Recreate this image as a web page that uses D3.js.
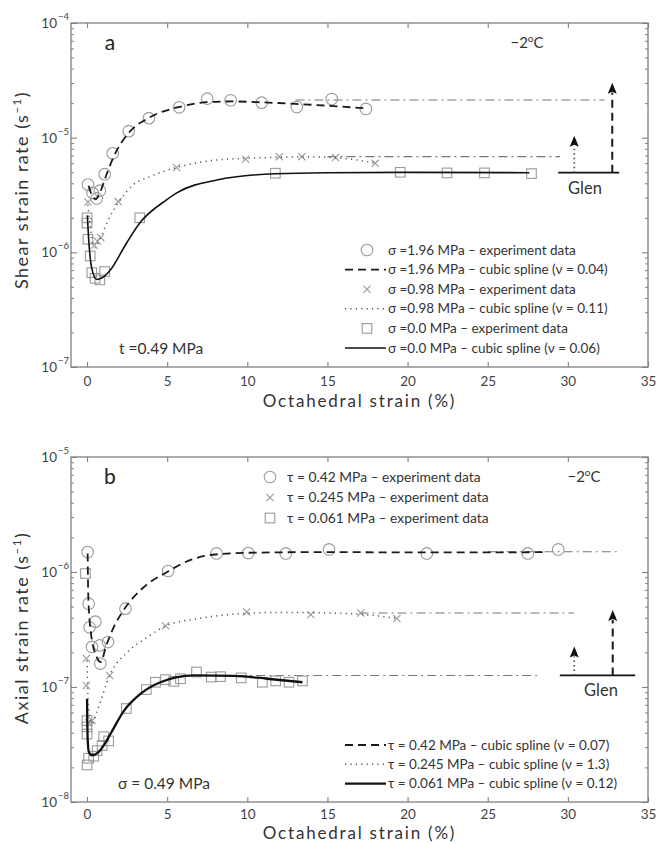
<!DOCTYPE html>
<html><head><meta charset="utf-8">
<script src="https://cdn.jsdelivr.net/npm/d3@7"></script>
<style>
html,body{margin:0;padding:0;background:#fff;}
svg{display:block;font-family:Lato,"Open Sans",sans-serif;}
</style></head>
<body><svg id="c" width="657" height="843"></svg>
<script>
// ---------- data ----------
const xTickValues = [0, 5, 10, 15, 20, 25, 30, 35];

// Panel a (shear strain rate, s^-1)
const a196Exp = [[0.06,3.9e-6],[0.35,3.3e-6],[0.6,2.95e-6],[0.8,3.45e-6],[1.1,4.8e-6],[1.6,7.3e-6],[2.6,1.14e-5],[3.86,1.48e-5],[5.75,1.84e-5],[7.5,2.19e-5],[8.96,2.12e-5],[10.9,2.02e-5],[13.09,1.85e-5],[15.27,2.17e-5],[17.4,1.78e-5]];
const a196Fit = [[0.1,3.8e-6],[0.3,3.15e-6],[0.55,2.9e-6],[0.8,3.3e-6],[1.2,4.7e-6],[1.7,7.0e-6],[2.6,1.1e-5],[3.9,1.5e-5],[5.8,1.86e-5],[7.5,2.04e-5],[9,2.07e-5],[11,2.03e-5],[13,1.97e-5],[15,1.9e-5],[17.4,1.8e-5]];
const a098Exp = [[0.06,2.75e-6],[0.45,1.15e-6],[0.65,1.25e-6],[0.85,1.35e-6],[1.95,2.77e-6],[5.59,5.5e-6],[9.9,6.5e-6],[12.0,6.83e-6],[13.4,6.83e-6],[15.5,6.7e-6],[17.98,5.97e-6]];
const a098Fit = [[0.05,2.6e-6],[0.25,1.5e-6],[0.48,1.1e-6],[0.9,1.4e-6],[1.31,1.9e-6],[2.0,2.77e-6],[2.87,3.87e-6],[3.92,4.57e-6],[5.6,5.5e-6],[8.1,6.4e-6],[10,6.6e-6],[12,6.75e-6],[14,6.8e-6],[16,6.6e-6],[18,6.0e-6]];
const a0Exp = [[0,2.0e-6],[0,1.8e-6],[0.06,1.3e-6],[0.2,9.3e-7],[0.3,6.65e-7],[0.5,5.94e-7],[0.8,5.75e-7],[1.1,6.8e-7],[3.29,2.0e-6],[11.75,4.9e-6],[19.54,4.99e-6],[22.46,4.93e-6],[24.8,4.93e-6],[27.73,4.86e-6]];
const a0Fit = [[0.02,2.1e-6],[0.12,1.2e-6],[0.3,7.2e-7],[0.6,5.8e-7],[0.95,6.0e-7],[1.42,6.9e-7],[2.46,1.2e-6],[3.29,1.8e-6],[4.96,2.87e-6],[5.6,3.3e-6],[8.1,4.28e-6],[11.75,4.85e-6],[15,4.95e-6],[20,4.98e-6],[27.6,4.95e-6]];
const aRefLevels = [[13,32.3,2.13e-5],[15,29.5,6.83e-6]];          // [xStart, xEnd, level]
const aGlenBase = [29.4, 33.2, 4.95e-6];                          // [xStart, xEnd, level]
const aGlenArrows = [[32.77,2.9e-5,"dash"],[30.4,1.0e-5,"dot"]];  // [x, tip, style]

// Panel b (axial strain rate, s^-1)
const b042Exp = [[0.04,1.49e-6],[0.1,5.3e-7],[0.16,3.3e-7],[0.52,3.7e-7],[0.31,2.23e-7],[0.79,2.3e-7],[1.31,2.46e-7],[0.83,1.6e-7],[2.4,4.8e-7],[5.06,1.02e-6],[8.08,1.45e-6],[10.06,1.46e-6],[12.4,1.45e-6],[15.1,1.57e-6],[21.2,1.45e-6],[27.5,1.45e-6],[29.4,1.57e-6]];
const b042Fit = [[0.04,1.45e-6],[0.08,6e-7],[0.25,2.9e-7],[0.55,1.9e-7],[0.85,1.65e-7],[1.2,2.3e-7],[1.66,3.3e-7],[2.3,4.7e-7],[3.5,7.3e-7],[5,1.0e-6],[6.5,1.28e-6],[8,1.42e-6],[10,1.47e-6],[15,1.49e-6],[20,1.48e-6],[25,1.48e-6],[28.6,1.49e-6]];
const b0245Exp = [[-0.04,1.77e-7],[-0.04,1.03e-7],[0.1,4.9e-8],[0.31,5.1e-8],[1.41,1.26e-7],[4.9,3.4e-7],[9.96,4.49e-7],[13.96,4.26e-7],[17.08,4.4e-7],[19.33,3.94e-7]];
const b0245Fit = [[0.0,1.7e-7],[0.08,7e-8],[0.3,4.8e-8],[0.6,6e-8],[0.83,7.4e-8],[1.41,1.26e-7],[2.5,2.0e-7],[3.75,2.7e-7],[4.9,3.4e-7],[7,3.95e-7],[9.2,4.3e-7],[12,4.45e-7],[15,4.4e-7],[17,4.3e-7],[19.3,3.95e-7]];
const b061Exp = [[-0.1,9.7e-7],[0,5.1e-8],[0,4.5e-8],[0,3.9e-8],[0,2.1e-8],[0.1,2.4e-8],[0.42,2.5e-8],[0.63,2.8e-8],[0.94,3.1e-8],[1.04,3.7e-8],[1.35,3.4e-8],[2.45,6.5e-8],[3.7,9.5e-8],[4.27,1.1e-7],[4.89,1.16e-7],[5.41,1.12e-7],[5.83,1.18e-7],[6.83,1.35e-7],[7.75,1.22e-7],[8.33,1.23e-7],[9.62,1.2e-7],[10.94,1.1e-7],[11.77,1.13e-7],[12.6,1.1e-7],[13.44,1.13e-7]];
const b061Fit = [[0,7.9e-8],[0.04,3.5e-8],[0.12,2.7e-8],[0.3,2.55e-8],[0.7,2.7e-8],[1.1,3.2e-8],[1.46,3.9e-8],[2.3,6.2e-8],[3.33,8.7e-8],[4.58,1.1e-7],[6.67,1.26e-7],[9.16,1.25e-7],[11.25,1.18e-7],[13.44,1.1e-7]];
const bRefLevels = [[25,33.2,1.5e-6],[17,30.4,4.4e-7],[7,28.3,1.26e-7]];
const bGlenBase = [29.5, 34.2, 1.26e-7];
const bGlenArrows = [[32.8,4.5e-7,"dash"],[30.4,2.16e-7,"dot"]];

const aLegend = [
  {sym:"circle", text:"σ =1.96 MPa – experiment data"},
  {line:"dash",  text:"σ =1.96 MPa – cubic spline (ν = 0.04)"},
  {sym:"cross",  text:"σ =0.98 MPa – experiment data"},
  {line:"dot",   text:"σ =0.98 MPa – cubic spline (ν = 0.11)"},
  {sym:"square", text:"σ =0.0 MPa – experiment data"},
  {line:"solid", text:"σ =0.0 MPa – cubic spline (ν = 0.06)"}
];
const bLegendTop = [
  {sym:"circle", text:"τ = 0.42 MPa – experiment data"},
  {sym:"cross",  text:"τ = 0.245 MPa – experiment data"},
  {sym:"square", text:"τ = 0.061 MPa – experiment data"}
];
const bLegendBottom = [
  {line:"dash",  text:"τ = 0.42 MPa – cubic spline (ν = 0.07)"},
  {line:"dot",   text:"τ = 0.245 MPa – cubic spline (ν = 1.3)"},
  {line:"solidB", text:"τ = 0.061 MPa – cubic spline (ν = 0.12)"}
];

// ---------- drawing ----------
const svg = d3.select("#c");
const AXC = "#808080", TXT = "#333", MK = "#9a9a9a";
const lineStyles = {
  dash:  {w:1.8, da:"8,5", c:"#1a1a1a"},
  dot:   {w:1.5, da:"1.2,4.2", c:"#555"},
  solid: {w:1.6, da:null, c:"#111"},
  solidB:{w:2.3, da:null, c:"#111"}
};

function marker(g, type, cx, cy){
  if(type==="circle"){
    g.append("circle").attr("cx",cx).attr("cy",cy).attr("r",5.8)
      .attr("fill","none").attr("stroke",MK).attr("stroke-width",1.1);
  } else if(type==="cross"){
    const s=3.6;
    g.append("path").attr("d",`M${cx-s},${cy-s}L${cx+s},${cy+s}M${cx-s},${cy+s}L${cx+s},${cy-s}`)
      .attr("stroke",MK).attr("stroke-width",1.1).attr("fill","none");
  } else {
    const s=4.8;
    g.append("rect").attr("x",cx-s).attr("y",cy-s).attr("width",2*s).attr("height",2*s)
      .attr("fill","none").attr("stroke",MK).attr("stroke-width",1.1);
  }
}

function styled(sel, st){
  sel.attr("fill","none").attr("stroke",lineStyles[st].c).attr("stroke-width",lineStyles[st].w);
  if(lineStyles[st].da) sel.attr("stroke-dasharray",lineStyles[st].da);
  return sel;
}

function arrowHead(g, x, y){
  g.append("path").attr("d",`M${x},${y-2}L${x+4.5},${y+9}L${x},${y+7}L${x-4.5},${y+9}Z`).attr("fill","#111");
}

function panel(cfg){
  const x = d3.scaleLinear().domain([-1,35]).range([cfg.left, cfg.right]);
  const y = d3.scaleLog().domain(cfg.ydom).range([cfg.bottom, cfg.top]);
  const g = svg.append("g");

  const line = d3.line().x(d=>x(d[0])).y(d=>y(d[1])).curve(d3.curveMonotoneX);

  // reference dash-dot levels
  cfg.refs.forEach(r=>{
    g.append("line").attr("x1",x(r[0])).attr("x2",x(r[1])).attr("y1",y(r[2])).attr("y2",y(r[2]))
      .attr("stroke","#777").attr("stroke-width",1.1).attr("stroke-dasharray","9,4,2,4");
  });

  cfg.series.forEach(s=>{
    s.exp.forEach(p=>marker(g, s.sym, x(p[0]), y(p[1])));
  });
  cfg.series.forEach(s=>{
    styled(g.append("path").datum(s.fit).attr("d",line), s.line);
  });

  // Glen
  g.append("line").attr("x1",x(cfg.glen[0])).attr("x2",x(cfg.glen[1]))
    .attr("y1",y(cfg.glen[2])).attr("y2",y(cfg.glen[2])).attr("stroke","#111").attr("stroke-width",1.8);
  cfg.arrows.forEach(a=>{
    const ax=x(a[0]);
    const l=g.append("line").attr("x1",ax).attr("x2",ax).attr("y1",y(cfg.glen[2])).attr("y2",y(a[1])+8);
    if(a[2]==="dash") styled(l,"dash").attr("stroke-width",2); else styled(l,"dot").attr("stroke-width",1.8).attr("stroke-dasharray","1.5,3");
    arrowHead(g, ax, y(a[1]));
  });
  g.append("text").attr("x",cfg.glenTextX).attr("y",y(cfg.glen[2])+21)
    .attr("text-anchor","middle").attr("font-size",16.5).attr("fill",TXT).text("Glen");

  // frame
  g.append("rect").attr("x",cfg.left).attr("y",cfg.top).attr("width",cfg.right-cfg.left)
    .attr("height",cfg.bottom-cfg.top).attr("fill","none").attr("stroke",AXC).attr("stroke-width",1.3);

  // x ticks
  const xb = d3.axisBottom(x).tickValues(xTickValues).tickSize(-5).tickPadding(cfg.tickPad).tickFormat(d3.format("d"));
  const xa = g.append("g").attr("transform",`translate(0,${cfg.bottom})`).call(xb);
  xa.select(".domain").remove();
  xa.selectAll("line").attr("stroke",AXC).attr("stroke-width",1.1);
  xa.selectAll("text").attr("font-size",13.5).attr("fill","#444").attr("font-family","Lato,sans-serif");
  const xt = g.append("g").attr("transform",`translate(0,${cfg.top})`).call(d3.axisTop(x).tickValues(xTickValues).tickSize(-5).tickFormat(""));
  xt.select(".domain").remove();
  xt.selectAll("line").attr("stroke",AXC).attr("stroke-width",1.1);

  // y ticks (major + minor), left and right
  const lo = Math.round(Math.log10(cfg.ydom[0])), hi = Math.round(Math.log10(cfg.ydom[1]));
  const majors = d3.range(lo, hi+1).map(e=>Math.pow(10,e));
  const minors = [];
  d3.range(lo, hi).forEach(e=>{ for(let k=2;k<=9;k++) minors.push(k*Math.pow(10,e)); });
  [[d3.axisLeft, cfg.left],[d3.axisRight, cfg.right]].forEach(([ax,pos])=>{
    const gm = g.append("g").attr("transform",`translate(${pos},0)`).call(ax(y).tickValues(majors).tickSize(-6).tickFormat(""));
    gm.select(".domain").remove();
    gm.selectAll("line").attr("stroke",AXC).attr("stroke-width",1.1);
    const gn = g.append("g").attr("transform",`translate(${pos},0)`).call(ax(y).tickValues(minors).tickSize(-3).tickFormat(""));
    gn.select(".domain").remove();
    gn.selectAll("line").attr("stroke",AXC).attr("stroke-width",1);
  });
  majors.forEach(v=>{
    const e = Math.round(Math.log10(v));
    g.append("text").attr("x",cfg.left-14).attr("y",y(v)+5).attr("text-anchor","end")
      .attr("font-size",13.5).attr("fill","#444").text("10");
    g.append("text").attr("x",cfg.left-13).attr("y",y(v)-3).attr("font-size",9.5).attr("fill","#444")
      .text("−"+Math.abs(e));
  });

  // axis labels
  g.append("text").attr("x",(cfg.left+cfg.right)/2).attr("y",cfg.bottom+cfg.xlabelDy).attr("text-anchor","middle")
    .attr("font-size",17).attr("letter-spacing",1.8).attr("fill",TXT).text("Octahedral strain (%)");
  const yl = g.append("text").attr("transform",`translate(28,${cfg.ylabelY}) rotate(-90)`)
    .attr("text-anchor","middle").attr("font-size",18).attr("letter-spacing",1.5).attr("fill",TXT);
  yl.append("tspan").text(cfg.ylabel+" (s");
  yl.append("tspan").attr("font-size",11.5).attr("dy",-7).text("−1");
  yl.append("tspan").attr("dy",7).text(")");

  // annotations
  g.append("text").attr("x",110).attr("y",cfg.top+27).attr("text-anchor","middle").attr("font-size",21).attr("fill","#222").text(cfg.letter);
  const tc = g.append("text").attr("x",cfg.tempX).attr("y",cfg.top+25).attr("text-anchor","middle").attr("font-size",15).attr("fill",TXT);
  tc.append("tspan").text("−2");
  tc.append("tspan").attr("font-size",10).attr("dy",-6).text("o");
  tc.append("tspan").attr("dy",6).text("C");
  g.append("text").attr("x",cfg.noteX).attr("y",cfg.noteY).attr("font-size",15.5).attr("fill",TXT).text(cfg.note);

  return {x,y,g};
}

function legend(items, symX, lineX0, lineX1, textX, y0, dy, fs){
  const g = svg.append("g");
  items.forEach((it,i)=>{
    const yy = y0 + i*dy;
    if(it.sym) marker(g, it.sym, symX, yy);
    if(it.line) styled(g.append("line").attr("x1",lineX0).attr("x2",lineX1).attr("y1",yy).attr("y2",yy), it.line);
    g.append("text").attr("x",textX).attr("y",yy+4.5).attr("font-size",fs).attr("fill",TXT).text(it.text);
  });
}

panel({
  left:71, right:648, top:23, bottom:367, ydom:[1e-7,1e-4],
  series:[
    {exp:a196Exp, fit:a196Fit, sym:"circle", line:"dash"},
    {exp:a098Exp, fit:a098Fit, sym:"cross", line:"dot"},
    {exp:a0Exp, fit:a0Fit, sym:"square", line:"solid"}
  ],
  refs:aRefLevels, glen:aGlenBase, arrows:aGlenArrows, glenTextX:585,
  ylabel:"Shear strain rate", ylabelY:190, letter:"a", tempX:527, xlabelDy:40, tickPad:9,
  note:"t =0.49 MPa", noteX:119, noteY:354
});
legend(aLegend, 367, 345, 386, 388, 250, 19.6, 13.5);

panel({
  left:71, right:648, top:457, bottom:802, ydom:[1e-8,1e-5],
  series:[
    {exp:b042Exp, fit:b042Fit, sym:"circle", line:"dash"},
    {exp:b0245Exp, fit:b0245Fit, sym:"cross", line:"dot"},
    {exp:b061Exp, fit:b061Fit, sym:"square", line:"solidB"}
  ],
  refs:bRefLevels, glen:bGlenBase, arrows:bGlenArrows, glenTextX:601,
  ylabel:"Axial strain rate", ylabelY:628, letter:"b", tempX:584, xlabelDy:37, tickPad:7,
  note:"σ = 0.49 MPa", noteX:118, noteY:789
});
legend(bLegendTop, 270, 0, 0, 287, 477, 20.5, 13.8);
legend(bLegendBottom, 0, 345, 386, 388, 745, 19.3, 13.5);
</script></body></html>
